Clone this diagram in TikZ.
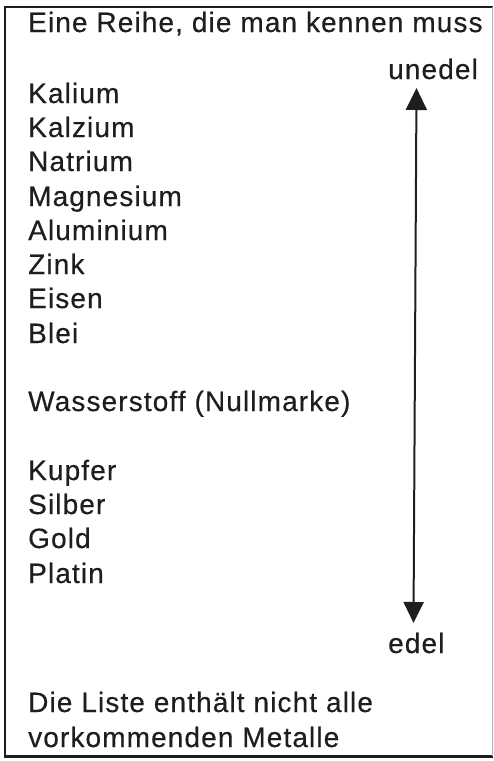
\documentclass[tikz,border=0pt]{standalone}
\usepackage{fontspec}
\setmainfont{Liberation Sans}[LetterSpace=4,FakeBold=0.4]
\usetikzlibrary{arrows.meta}
\definecolor{ink}{HTML}{1E1E1E}
\begin{document}
\begin{tikzpicture}[x=1pt,y=-1pt,
  lbl/.style={anchor=base west,inner sep=0pt,text=ink,font=\fontsize{28}{34}\selectfont},
  frame/.style={line width=2.2pt,draw=ink},
  rangearrow/.style={line width=2pt,draw=ink,{Triangle[width=21pt,length=22pt]}-{Triangle[width=20pt,length=21pt]}}]
\useasboundingbox (0,0) rectangle (494,761);
% frame
\draw[frame,line cap=rect] (5,757) -- (5,7) -- (492,7);
\draw[frame] (5,756.5) -- (493,756.5);
\draw[line width=0.8pt,draw=gray!60] (492.8,7) -- (492.8,756);
% texts
\node[lbl] (title) at (28,32) {Eine Reihe, die man kennen muss};
\node[lbl] (unedel) at (388,79) {unedel};
\node[lbl] (kalium) at (28,103) {Kalium};
\node[lbl] (kalzium) at (28,137) {Kalzium};
\node[lbl] (natrium) at (28,171) {Natrium};
\node[lbl] (magnesium) at (28,206) {Magnesium};
\node[lbl] (aluminium) at (28,240) {Aluminium};
\node[lbl] (zink) at (28,274) {Zink};
\node[lbl] (eisen) at (28,308) {Eisen};
\node[lbl] (blei) at (28,343) {Blei};
\node[lbl] (wasserstoff) at (28,411) {Wasserstoff (Nullmarke)};
\node[lbl] (kupfer) at (28,480) {Kupfer};
\node[lbl] (silber) at (28,514) {Silber};
\node[lbl] (gold) at (28,548) {Gold};
\node[lbl] (platin) at (28,583) {Platin};
\node[lbl] (edel) at (388,653) {edel};
\node[lbl] (note1) at (28,712) {Die Liste enthält nicht alle};
\node[lbl] (note2) at (28,747) {vorkommenden Metalle};
% arrow
\coordinate (atop) at (416.5,88);
\coordinate (abot) at (413.5,623);
\draw[rangearrow] (atop) -- (abot);
\end{tikzpicture}
\end{document}
